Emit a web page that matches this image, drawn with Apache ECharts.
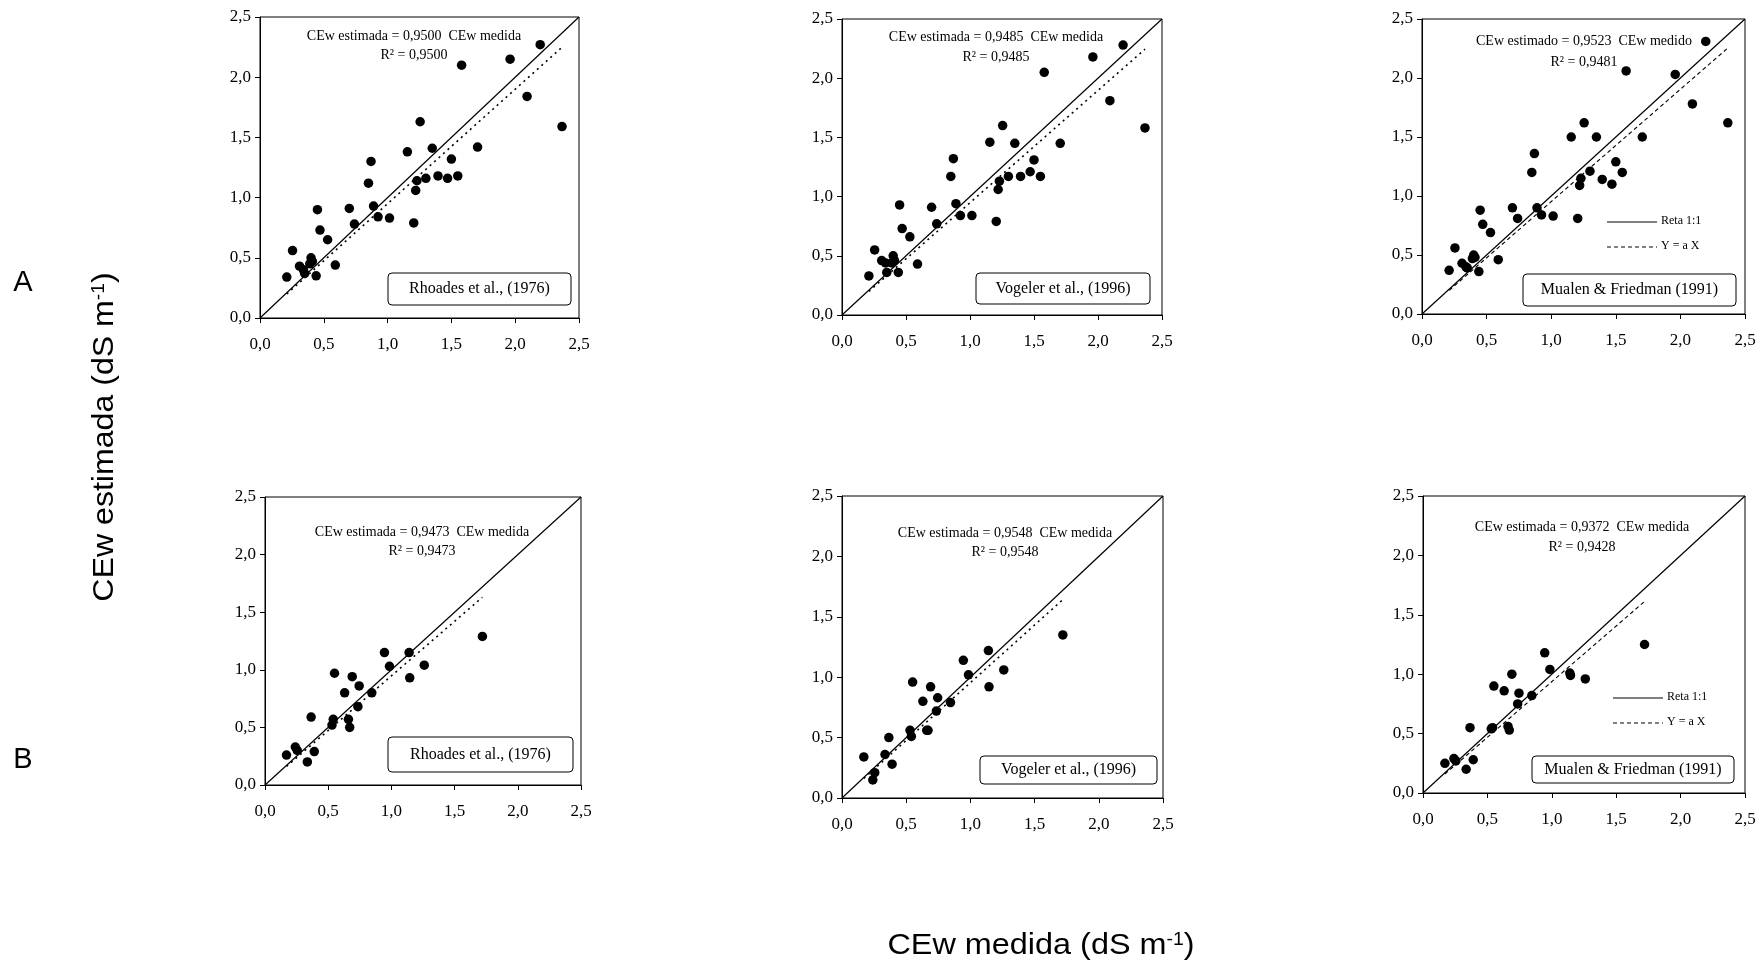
<!DOCTYPE html>
<html>
<head>
<meta charset="utf-8">
<script src="https://cdn.jsdelivr.net/npm/echarts@6/dist/echarts.min.js"></script>
<style>
  html, body { margin: 0; padding: 0; background: #fff; }
  #chart { width: 1762px; height: 963px; }
</style>
</head>
<body>
<div id="chart"></div>
<script>
// Measured electrical conductivity (x) shared by the three panels of each row
const medidaA = [0.21, 0.255, 0.31, 0.34, 0.35, 0.39, 0.40, 0.41, 0.44, 0.45, 0.47, 0.53, 0.59, 0.70, 0.74,
  0.85, 0.87, 0.89, 0.925, 1.015, 1.155, 1.205, 1.22, 1.23, 1.255, 1.30, 1.35, 1.395, 1.47, 1.50, 1.55,
  1.58, 1.705, 1.96, 2.093, 2.196, 2.367];
const medidaB = [0.17, 0.24, 0.255, 0.335, 0.365, 0.39, 0.53, 0.54, 0.55, 0.63, 0.66, 0.67, 0.69, 0.735,
  0.745, 0.845, 0.945, 0.985, 1.14, 1.145, 1.26, 1.72];

// Estimated values for each model
const rhoadesA = [0.34, 0.56, 0.43, 0.40, 0.37, 0.45, 0.50, 0.47, 0.35, 0.90, 0.73, 0.65, 0.44, 0.91, 0.78,
  1.12, 1.30, 0.93, 0.84, 0.83, 1.38, 0.79, 1.06, 1.14, 1.63, 1.16, 1.41, 1.18, 1.16, 1.32, 1.18,
  2.10, 1.42, 2.15, 1.84, 2.27, 1.59];
const vogelerA = [0.33, 0.55, 0.46, 0.44, 0.36, 0.44, 0.50, 0.46, 0.36, 0.93, 0.73, 0.66, 0.43, 0.91, 0.77,
  1.17, 1.32, 0.94, 0.84, 0.84, 1.46, 0.79, 1.06, 1.13, 1.60, 1.17, 1.45, 1.17, 1.21, 1.31, 1.17,
  2.05, 1.45, 2.18, 1.81, 2.28, 1.58];
const mualenA = [0.37, 0.56, 0.43, 0.40, 0.39, 0.47, 0.50, 0.48, 0.36, 0.88, 0.76, 0.69, 0.46, 0.90, 0.81,
  1.20, 1.36, 0.90, 0.84, 0.83, 1.50, 0.81, 1.09, 1.15, 1.62, 1.21, 1.50, 1.14, 1.10, 1.29, 1.20,
  2.06, 1.50, 2.03, 1.78, 2.31, 1.62];
const rhoadesB = [0.26, 0.33, 0.30, 0.20, 0.59, 0.29, 0.52, 0.57, 0.97, 0.80, 0.57, 0.50, 0.94, 0.68,
  0.86, 0.80, 1.15, 1.03, 1.15, 0.93, 1.04, 1.29];
const vogelerB = [0.34, 0.15, 0.21, 0.36, 0.50, 0.28, 0.56, 0.51, 0.96, 0.80, 0.56, 0.56, 0.92, 0.72,
  0.83, 0.79, 1.14, 1.02, 1.22, 0.92, 1.06, 1.35];
const mualenB = [0.25, 0.29, 0.27, 0.20, 0.55, 0.28, 0.54, 0.55, 0.90, 0.86, 0.56, 0.53, 1.00, 0.75,
  0.84, 0.82, 1.18, 1.04, 1.01, 0.99, 0.96, 1.25];

// Regression slopes and R² shown in each panel
const slopes = [0.9500, 0.9485, 0.9523, 0.9473, 0.9548, 0.9372];
const r2 = ['0,9500', '0,9485', '0,9481', '0,9473', '0,9548', '0,9428'];
const equations = [
  'CEw estimada = 0,9500  CEw medida',
  'CEw estimada = 0,9485  CEw medida',
  'CEw estimado = 0,9523  CEw medido',
  'CEw estimada = 0,9473  CEw medida',
  'CEw estimada = 0,9548  CEw medida',
  'CEw estimada = 0,9372  CEw medida'
];
const models = ['Rhoades et al., (1976)', 'Vogeler et al., (1996)', 'Mualen & Friedman (1991)',
  'Rhoades et al., (1976)', 'Vogeler et al., (1996)', 'Mualen & Friedman (1991)'];

const panels = [
  { x: medidaA, y: rhoadesA, fit: 'dotted' },
  { x: medidaA, y: vogelerA, fit: 'dotted' },
  { x: medidaA, y: mualenA, fit: 'dashed' },
  { x: medidaB, y: rhoadesB, fit: 'dotted' },
  { x: medidaB, y: vogelerB, fit: 'dotted' },
  { x: medidaB, y: mualenB, fit: 'dashed' }
];

// Layout of the six plot areas
const grids = [
  { left: 260, top: 17, width: 319, height: 301 },
  { left: 842, top: 19, width: 320, height: 296 },
  { left: 1422, top: 19, width: 323, height: 295 },
  { left: 265, top: 497, width: 316, height: 288 },
  { left: 842, top: 496, width: 321, height: 302 },
  { left: 1423, top: 496, width: 322, height: 297 }
];
// Equation text anchor (centre, px) and model box (px) per panel
const eqPos = [[414, 36, 55], [996, 37, 57], [1584, 41, 62], [422, 532, 551], [1005, 533, 552], [1582, 527, 547]];
const boxPos = [[388, 273, 183, 32], [976, 273, 174, 31], [1523, 274, 213, 32],
  [388, 737, 185, 35], [980, 756, 177, 28], [1532, 756, 202, 27]];
const legendPos = [[1607, 222], [1613, 698]];

const serif = '"Liberation Serif", "Times New Roman", serif';
const sans = '"Liberation Sans", Arial, sans-serif';
const fmt = v => v.toFixed(1).replace('.', ',');
const fitStyle = { dotted: [2, 4], dashed: [4, 3] };

const xAxis = [], yAxis = [], series = [], graphic = [];

panels.forEach((p, i) => {
  const axisCommon = {
    gridIndex: i, type: 'value', min: 0, max: 2.5, interval: 0.5,
    splitLine: { show: false },
    axisLine: { show: true, onZero: false, lineStyle: { color: '#000', width: 1 } },
    axisTick: { show: true, inside: false, length: 5, lineStyle: { color: '#000' } },
    axisLabel: { formatter: fmt, color: '#000', fontFamily: serif, fontSize: 17 }
  };
  xAxis.push(Object.assign({}, axisCommon, { axisLabel: Object.assign({}, axisCommon.axisLabel, { margin: 18 }) }));
  yAxis.push(Object.assign({}, axisCommon, { axisLabel: Object.assign({}, axisCommon.axisLabel, { margin: 9 }) }));

  const pts = p.x.map((v, k) => [v, p.y[k]]);
  const xmin = Math.min(...p.x), xmax = Math.max(...p.x);
  series.push({
    type: 'line', xAxisIndex: i, yAxisIndex: i, data: [[0, 0], [2.5, 2.5]],
    symbol: 'none', silent: true, lineStyle: { color: '#000', width: 1.2 }, z: 3
  });
  series.push({
    type: 'line', xAxisIndex: i, yAxisIndex: i,
    data: [[xmin, slopes[i] * xmin], [xmax, slopes[i] * xmax]],
    symbol: 'none', silent: true,
    lineStyle: { color: '#000', width: p.fit === 'dotted' ? 1.6 : 1.1, type: fitStyle[p.fit] }, z: 3
  });
  series.push({
    type: 'scatter', xAxisIndex: i, yAxisIndex: i, data: pts,
    symbol: 'circle', symbolSize: 9.5, itemStyle: { color: '#000', opacity: 1 }, z: 5
  });

  const e = eqPos[i];
  graphic.push({
    type: 'text', x: e[0], y: e[1], z: 10,
    style: { text: equations[i], font: '14px ' + serif, fill: '#000', align: 'center', verticalAlign: 'middle' }
  });
  graphic.push({
    type: 'text', x: e[0], y: e[2], z: 10,
    style: { text: 'R² = ' + r2[i], font: '14px ' + serif, fill: '#000', align: 'center', verticalAlign: 'middle' }
  });

  const b = boxPos[i];
  graphic.push({
    type: 'rect', z: 10,
    shape: { x: b[0], y: b[1], width: b[2], height: b[3], r: 4 },
    style: { fill: '#fff', stroke: '#000', lineWidth: 1 }
  });
  graphic.push({
    type: 'text', x: b[0] + b[2] / 2, y: b[1] + b[3] / 2, z: 11,
    style: { text: models[i], font: '16px ' + serif, fill: '#000', align: 'center', verticalAlign: 'middle' }
  });
});

// Line legend inside the Mualen & Friedman panels
legendPos.forEach(([lx, ly]) => {
  graphic.push({ type: 'line', z: 10, shape: { x1: lx, y1: ly, x2: lx + 50, y2: ly }, style: { stroke: '#000', lineWidth: 1 } });
  graphic.push({ type: 'text', x: lx + 54, y: ly - 1, z: 10,
    style: { text: 'Reta 1:1', font: '12px ' + serif, fill: '#000', align: 'left', verticalAlign: 'middle' } });
  graphic.push({ type: 'line', z: 10, shape: { x1: lx, y1: ly + 25, x2: lx + 50, y2: ly + 25 },
    style: { stroke: '#000', lineWidth: 1, lineDash: [4, 3] } });
  graphic.push({ type: 'text', x: lx + 54, y: ly + 24, z: 10,
    style: { text: 'Y = a X', font: '12px ' + serif, fill: '#000', align: 'left', verticalAlign: 'middle' } });
});

// Row letters and shared axis titles
graphic.push({ type: 'text', x: 23, y: 283, style: { text: 'A', font: '29px ' + sans, fill: '#000', align: 'center', verticalAlign: 'middle' } });
graphic.push({ type: 'text', x: 23, y: 760, style: { text: 'B', font: '29px ' + sans, fill: '#000', align: 'center', verticalAlign: 'middle' } });
const titleRich = { sup: { fontSize: 18, fontFamily: sans, verticalAlign: 'top', lineHeight: 18 } };
graphic.push({
  type: 'text', x: 105, y: 437, rotation: Math.PI / 2, scaleX: 1.07,
  style: { text: 'CEw estimada (dS m{sup|-1})', font: '30px ' + sans, fill: '#000', align: 'center', verticalAlign: 'middle', rich: titleRich }
});
graphic.push({
  type: 'text', x: 1041, y: 946, scaleX: 1.08,
  style: { text: 'CEw medida (dS m{sup|-1})', font: '30px ' + sans, fill: '#000', align: 'center', verticalAlign: 'middle', rich: titleRich }
});

const chart = echarts.init(document.getElementById('chart'));
chart.setOption({
  backgroundColor: '#fff',
  animation: false,
  grid: grids.map(g => Object.assign({ show: true, borderColor: '#000', borderWidth: 1, backgroundColor: 'transparent' }, g)),
  xAxis, yAxis, series, graphic
});
</script>
</body>
</html>
